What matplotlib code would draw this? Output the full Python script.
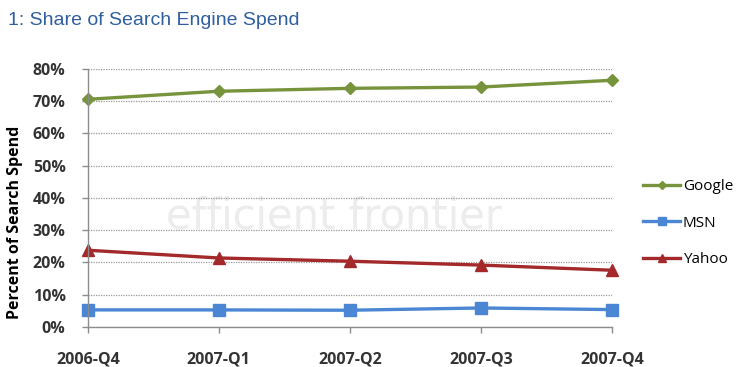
import matplotlib
matplotlib.use("Agg")
import matplotlib.pyplot as plt
from matplotlib.ticker import PercentFormatter

quarters = ["2006-Q4", "2007-Q1", "2007-Q2", "2007-Q3", "2007-Q4"]
google = [70.6, 73.1, 74.0, 74.4, 76.5]
msn = [5.3, 5.3, 5.2, 5.9, 5.4]
yahoo = [23.8, 21.4, 20.4, 19.2, 17.6]
yticks = [0, 10, 20, 30, 40, 50, 60, 70, 80]

fig = plt.figure(figsize=(7.38, 3.67), dpi=100)
ax = fig.add_axes([0.119, 0.109, 0.710, 0.703])

x = list(range(len(quarters)))
ax.plot(x, google, color="#77933c", lw=2.4, marker="D", ms=6, label="Google")
ax.plot(x, msn, color="#4a86d4", lw=2.4, marker="s", ms=8, label="MSN")
ax.plot(x, yahoo, color="#a3292b", lw=2.4, marker="^", ms=8, label="Yahoo")

ax.set_xlim(0, len(quarters) - 1)
ax.set_ylim(0, 80)
ax.set_yticks(yticks)
ax.yaxis.set_major_formatter(PercentFormatter(decimals=0))
ax.set_xticks(x)
ax.tick_params(axis="both", colors="#8c8c8c", length=4, width=1,
               labelcolor="#333333", labelsize=11.5)
ax.tick_params(axis="x", pad=14)
ax.tick_params(axis="y", pad=12)
ax.set_xticklabels(quarters, fontweight="bold", fontfamily="Open Sans",
                   fontsize=11.5, color="#333333")
ax.set_yticks(yticks)
ax.set_yticklabels([f"{v}%" for v in yticks], fontweight="bold",
                   fontfamily="Open Sans", fontsize=11.5, color="#333333")
ax.grid(axis="y", linestyle=(0, (1, 1)), color="#999999", lw=0.9)
ax.set_axisbelow(True)
for s in ["top", "right"]:
    ax.spines[s].set_visible(False)
for s in ["left", "bottom"]:
    ax.spines[s].set_color("#8c8c8c")
    ax.spines[s].set_linewidth(1.0)
ax.set_ylabel("Percent of Search Spend", fontsize=11.5, fontweight="bold",
              fontfamily="Open Sans", color="#000000")
ax.yaxis.set_label_coords(-0.124, 0.405)
for l in ax.lines:
    l.set_clip_on(False)

ax.text(0.47, 0.43, "efficient frontier", transform=ax.transAxes,
        fontsize=30, color="#ececec", ha="center", va="center",
        fontfamily="DejaVu Sans", zorder=0.5)

fig.text(0.011, 0.945, "1: Share of Search Engine Spend", fontsize=14,
         color="#2f5f9e", fontfamily="Liberation Sans", va="center")

leg = fig.legend(loc="center left", bbox_to_anchor=(0.853, 0.392), frameon=False,
                 prop={"family": "Open Sans", "size": 11}, handlelength=2.4,
                 labelspacing=1.4, handletextpad=0.2, markerscale=0.75)

fig.savefig("out.png", dpi=100)
